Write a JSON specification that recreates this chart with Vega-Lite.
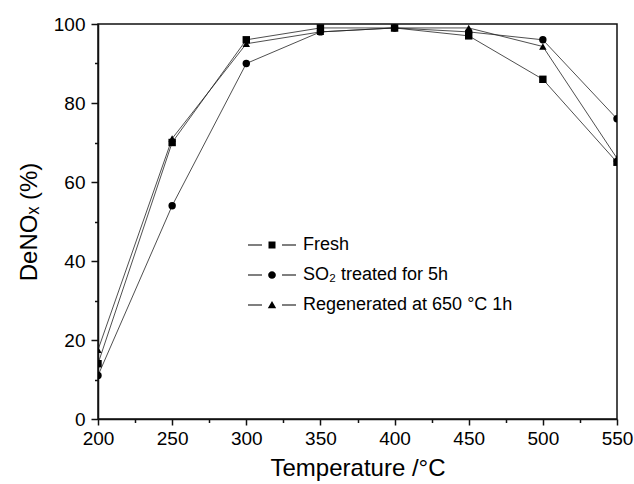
{
  "$schema": "https://vega.github.io/schema/vega-lite/v6.json",
  "width": 519,
  "height": 395,
  "autosize": {"type": "none"},
  "padding": {"left": 98, "top": 24, "right": 17, "bottom": 65},
  "background": "white",
  "config": {
    "view": {"stroke": "#111", "strokeWidth": 1.5},
    "font": "Liberation Sans",
    "axis": {"grid": false, "domainColor": "#111", "domainWidth": 1.5, "tickColor": "#111", "tickWidth": 1.5, "labelColor": "#000", "titleColor": "#000", "labelFont": "Liberation Sans", "titleFont": "Liberation Sans", "titleFontWeight": "normal"}
  },
  "data": {
    "values": [
      {"t": 200, "v": 14, "s": "Fresh"},
      {"t": 250, "v": 70, "s": "Fresh"},
      {"t": 300, "v": 96, "s": "Fresh"},
      {"t": 350, "v": 99, "s": "Fresh"},
      {"t": 400, "v": 99, "s": "Fresh"},
      {"t": 450, "v": 97, "s": "Fresh"},
      {"t": 500, "v": 86, "s": "Fresh"},
      {"t": 550, "v": 65, "s": "Fresh"},
      {"t": 200, "v": 11, "s": "SO₂ treated for 5h"},
      {"t": 250, "v": 54, "s": "SO₂ treated for 5h"},
      {"t": 300, "v": 90, "s": "SO₂ treated for 5h"},
      {"t": 350, "v": 98, "s": "SO₂ treated for 5h"},
      {"t": 400, "v": 99, "s": "SO₂ treated for 5h"},
      {"t": 450, "v": 98, "s": "SO₂ treated for 5h"},
      {"t": 500, "v": 96, "s": "SO₂ treated for 5h"},
      {"t": 550, "v": 76, "s": "SO₂ treated for 5h"},
      {"t": 200, "v": 17.5, "s": "Regenerated at 650 °C 1h"},
      {"t": 250, "v": 71, "s": "Regenerated at 650 °C 1h"},
      {"t": 300, "v": 95, "s": "Regenerated at 650 °C 1h"},
      {"t": 350, "v": 98, "s": "Regenerated at 650 °C 1h"},
      {"t": 400, "v": 99, "s": "Regenerated at 650 °C 1h"},
      {"t": 450, "v": 99, "s": "Regenerated at 650 °C 1h"},
      {"t": 500, "v": 94.3, "s": "Regenerated at 650 °C 1h"},
      {"t": 550, "v": 66, "s": "Regenerated at 650 °C 1h"}
    ]
  },
  "resolve": {"scale": {"x": "independent", "y": "independent", "shape": "independent"}},
  "layer": [
    {
      "layer": [
        {
          "mark": {"type": "line", "stroke": "#222", "strokeWidth": 0.8, "clip": true},
          "encoding": {
            "x": {"field": "t", "type": "quantitative", "scale": {"domain": [200, 550], "nice": false, "zero": false},
              "axis": {"orient": "bottom", "values": [200, 250, 300, 350, 400, 450, 500, 550], "tickSize": 6, "labelPadding": 4, "labelFontSize": 19, "labelFlush": false, "title": "Temperature /°C", "titleFontSize": 24, "titlePadding": 8}},
            "y": {"field": "v", "type": "quantitative", "scale": {"domain": [0, 100], "nice": false},
              "axis": {"orient": "left", "values": [0, 20, 40, 60, 80, 100], "tickSize": 7, "labelPadding": 6, "labelFontSize": 19, "title": "DeNOₓ (%)", "titleFontSize": 24, "titlePadding": 12}},
            "detail": {"field": "s"}
          }
        },
        {
          "mark": {"type": "point", "filled": true, "fill": "#000", "stroke": null, "opacity": 1, "size": 55, "clip": true},
          "encoding": {
            "x": {"field": "t", "type": "quantitative"},
            "y": {"field": "v", "type": "quantitative"},
            "shape": {"field": "s", "type": "nominal",
              "scale": {"domain": ["Fresh", "SO₂ treated for 5h", "Regenerated at 650 °C 1h"], "range": ["square", "circle", "triangle-up"]},
              "legend": null
            }
          }
        }
      ]
    },
    {
      "transform": [{"filter": "datum.t < 0"}],
      "mark": {"type": "point", "filled": true, "fill": "#000", "stroke": null, "opacity": 1},
      "encoding": {
        "x": {"field": "t", "type": "quantitative", "scale": {"domain": [200, 550], "nice": false, "zero": false},
          "axis": {"orient": "bottom", "values": [225, 275, 325, 375, 425, 475, 525], "tickSize": 3.5, "labels": false, "domain": false, "title": null}},
        "y": {"field": "v", "type": "quantitative", "scale": {"domain": [0, 100], "nice": false},
          "axis": {"orient": "left", "values": [10, 30, 50, 70, 90], "tickSize": 3.5, "labels": false, "domain": false, "title": null}},
        "shape": {"field": "s", "type": "nominal",
          "scale": {"domain": ["Fresh", "SO₂ treated for 5h", "Regenerated at 650 °C 1h"],
            "range": [
              "M-6.86,-0.14H-2.86V0.14H-6.86Z M2.86,-0.14H6.86V0.14H2.86Z M-1,-1H1V1H-1Z",
              "M-6.86,-0.14H-2.86V0.14H-6.86Z M2.86,-0.14H6.86V0.14H2.86Z M-1.1,0A1.1,1.1 0 1,0 1.1,0A1.1,1.1 0 1,0 -1.1,0Z",
              "M-6.86,-0.14H-2.86V0.14H-6.86Z M2.86,-0.14H6.86V0.14H2.86Z M0,-1.15L1.2,0.95H-1.2Z"
            ]},
          "legend": {
            "orient": "none", "legendX": 165, "legendY": 212, "title": null, "padding": 0,
            "symbolSize": 49, "symbolFillColor": "#000", "symbolStrokeWidth": 0, "symbolOpacity": 1,
            "labelOffset": 22, "labelFontSize": 18, "labelFont": "Liberation Sans", "labelColor": "#000", "labelLimit": 400, "rowPadding": 12
          }
        }
      }
    }
  ]
}
